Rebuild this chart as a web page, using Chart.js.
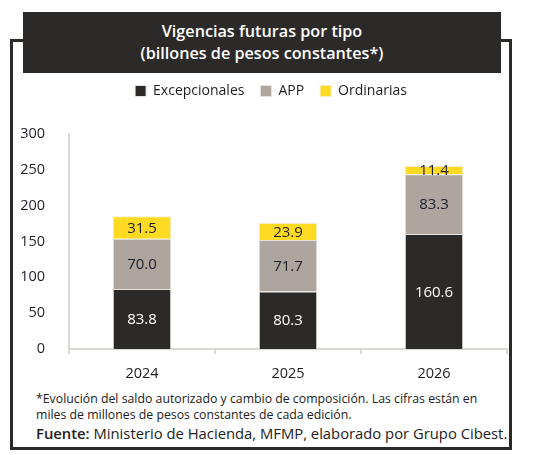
<!DOCTYPE html>
<html><head><meta charset="utf-8">
<script src="https://cdn.jsdelivr.net/npm/chart.js@4.4.1/dist/chart.umd.min.js"></script>
<style>
html,body{margin:0;padding:0;background:#fff;width:543px;height:455px;overflow:hidden;font-family:"Open Sans",sans-serif;}
#frame{position:absolute;left:10px;top:39px;width:496px;height:405px;border:3px solid #2b2a28;}
#title{position:absolute;left:23px;top:12px;width:478px;height:61px;background:#2b2a28;color:#fff;text-align:center;font-size:16.2px;font-weight:600;line-height:22px;box-sizing:border-box;padding-top:8px;}
#wrap{position:absolute;left:15px;top:68px;width:495px;height:317px;}
#note{position:absolute;left:36px;top:391px;width:470px;font-size:12.3px;line-height:15.5px;color:#222;}
#src{position:absolute;left:36px;top:423px;font-size:14.8px;color:#222;white-space:nowrap;}
</style></head>
<body>
<div id="frame"></div>
<div id="title">Vigencias futuras por tipo<br>(billones de pesos constantes*)</div>
<div id="wrap"><canvas id="c" width="495" height="317"></canvas></div>
<div id="note">*Evolución del saldo autorizado y cambio de composición. Las cifras están en miles de millones de pesos constantes de cada edición.</div>
<div id="src"><b style="font-weight:600">Fuente:</b> Ministerio de Hacienda, MFMP, elaborado por Grupo Cibest.</div>
<script>
const categories = ["2024", "2025", "2026"];
const excepcionales = [83.8, 80.3, 160.6];
const app = [70.0, 71.7, 83.3];
const ordinarias = [31.5, 23.9, 11.4];
const yTicks = [0, 50, 100, 150, 200, 250, 300];

const labelPlugin = {
  id: 'segLabels',
  afterDatasetsDraw(chart) {
    const ctx = chart.ctx;
    ctx.save();
    ctx.font = '15px "Open Sans", sans-serif';
    ctx.textAlign = 'center';
    ctx.textBaseline = 'middle';
    chart.data.datasets.forEach((ds, i) => {
      const meta = chart.getDatasetMeta(i);
      meta.data.forEach((el, j) => {
        const y = (el.y + el.base) / 2;
        ctx.fillStyle = i === 0 ? '#ffffff' : '#1e1e28';
        ctx.fillText(ds.data[j].toFixed(1), el.x, y + 1);
      });
    });
    ctx.restore();
  }
};
const legendSpacer = {
  id: 'legendSpacer',
  beforeLayout(chart) {
    const lg = chart.legend;
    if (lg && !lg._patched) {
      lg._patched = true;
      const orig = lg.fit;
      lg.fit = function () { orig.call(this); this.height += 26; };
    }
  },
  afterLayout(chart) {
    const lg = chart.legend;
    if (lg) { lg.left += 10; lg.right += 10; }
  }
};

new Chart(document.getElementById('c'), {
  type: 'bar',
  data: {
    labels: categories,
    datasets: [
      { label: 'Excepcionales', data: excepcionales, backgroundColor: '#2b2a28', borderColor: '#e6e3e0', borderWidth: 1 },
      { label: 'APP', data: app, backgroundColor: '#ada59e', borderColor: '#e6e3e0', borderWidth: 1 },
      { label: 'Ordinarias', data: ordinarias, backgroundColor: '#fedb22', borderColor: '#f3ecc0', borderWidth: 1 }
    ]
  },
  options: {
    responsive: false,
    animation: false,
    devicePixelRatio: 1,
    layout: { padding: { left: 0, right: 3, top: 0, bottom: 0 } },
    datasets: { bar: { categoryPercentage: 1, barPercentage: 0.4 } },
    plugins: {
      legend: {
        position: 'top',
        labels: {
          boxWidth: 11, boxHeight: 11, padding: 16, color: '#1e1e1e',
          font: { size: 14, family: '"Open Sans", sans-serif' }
        }
      },
      tooltip: { enabled: false }
    },
    scales: {
      x: {
        stacked: true,
        grid: { display: true, drawOnChartArea: false, drawTicks: true, tickLength: 5, offset: true, color: '#dcd8d4', lineWidth: 2 },
        border: { display: true, color: '#dcd8d4', width: 2 },
        ticks: { color: '#1e1e1e', font: { size: 14.5, family: '"Open Sans", sans-serif' }, padding: 11 },
        afterFit(s) { s.height = 36; }
      },
      y: {
        stacked: true, min: 0, max: 300,
        afterBuildTicks(s) { s.ticks = yTicks.map(v => ({ value: v })); },
        grid: { display: false },
        border: { display: true, color: '#dcd8d4', width: 2 },
        ticks: { color: '#1e1e28', font: { size: 14.5, family: '"Open Sans", sans-serif' }, padding: 16 },
        afterFit(s) { s.width = 54; }
      }
    }
  },
  plugins: [labelPlugin, legendSpacer]
});
</script>
</body></html>
